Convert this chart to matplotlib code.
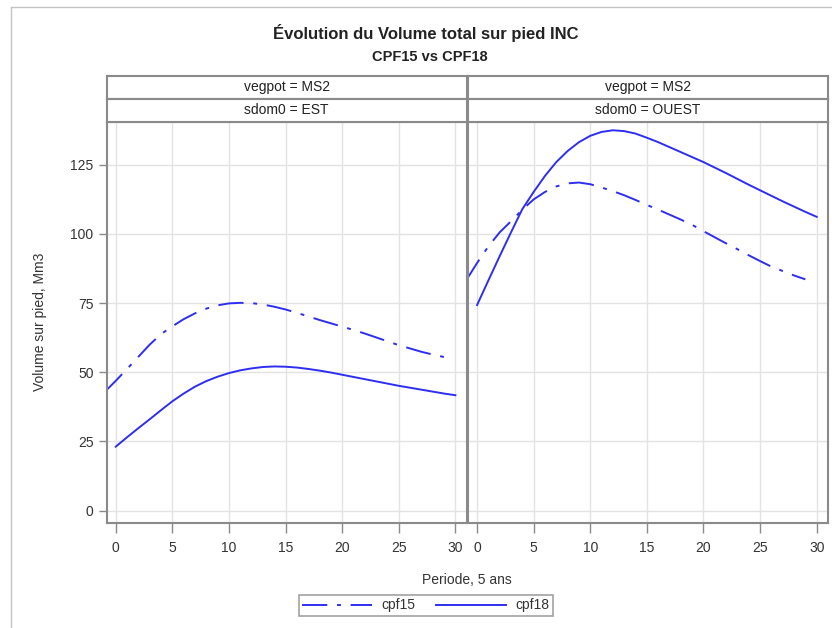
import matplotlib.pyplot as plt
from matplotlib.lines import Line2D

plt.rcParams['font.family'] = ['Liberation Sans', 'DejaVu Sans']

# periods (5-year steps)
periode_cpf15 = list(range(-1, 30))
periode_cpf18 = list(range(0, 31))

# sdom0 = EST
est_cpf15 = [42.8, 46.9, 51.2, 55.6, 60.0, 63.8, 66.6, 69.2, 71.3, 73.0, 74.2,
             74.9, 75.1, 75.0, 74.5, 73.7, 72.7, 71.5, 70.2, 68.9, 67.7, 66.5,
             65.3, 64.0, 62.6, 61.2, 59.8, 58.6, 57.4, 56.4, 55.5]
est_cpf18 = [23.1, 26.5, 29.8, 33.0, 36.3, 39.5, 42.3, 44.8, 46.8, 48.4, 49.7,
             50.7, 51.4, 51.9, 52.1, 52.0, 51.7, 51.2, 50.6, 49.9, 49.1, 48.3,
             47.5, 46.7, 45.9, 45.1, 44.4, 43.7, 43.0, 42.3, 41.7]

# sdom0 = OUEST
ouest_cpf15 = [83.0, 89.5, 95.5, 100.6, 104.6, 108.8, 112.5, 115.2, 117.2, 118.3,
               118.6, 118.0, 116.8, 115.5, 114.0, 112.3, 110.5, 108.8, 107.0,
               105.2, 103.3, 101.0, 98.8, 96.6, 94.5, 92.3, 90.2, 88.2, 86.6,
               85.0, 83.6]
ouest_cpf18 = [74.3, 83.2, 92.0, 100.6, 109.0, 115.2, 121.0, 126.0, 130.0, 133.2,
               135.5, 136.9, 137.5, 137.2, 136.3, 134.8, 133.2, 131.4, 129.6,
               127.8, 126.0, 124.0, 122.0, 119.9, 117.8, 115.8, 113.8, 111.8,
               109.9, 108.0, 106.2]

panels = [('EST', est_cpf15, est_cpf18), ('OUEST', ouest_cpf15, ouest_cpf18)]
xticks = [0, 5, 10, 15, 20, 25, 30]
yticks = [0, 25, 50, 75, 100, 125]

blue = '#2e2ef0'
frame = '#8a8a8a'
dashdot = (0, (13, 5, 2, 5))

W, H = 832, 628
fig = plt.figure(figsize=(W / 100, H / 100), dpi=100)

# outer border of the original graph
fig.add_artist(Line2D([11 / W, 11 / W], [0, 1 - 7 / H], transform=fig.transFigure,
                      color='#c4c4c4', lw=1))
fig.add_artist(Line2D([11 / W, 1], [1 - 7 / H, 1 - 7 / H], transform=fig.transFigure,
                      color='#c4c4c4', lw=1))

fig.text(426 / W, 1 - 33 / H, 'Évolution du Volume total sur pied INC',
         ha='center', va='center', fontsize=12, fontweight='bold', color='#222222')
fig.text(430 / W, 1 - 57 / H, 'CPF15 vs CPF18',
         ha='center', va='center', fontsize=10.5, fontweight='bold', color='#222222')

lefts = [106.7, 468.0]
width = 360.0
top, bottom = 121.7, 522.7
strip_h = 23.0

axes = []
for i, (sdom, y15, y18) in enumerate(panels):
    x0 = lefts[i]
    ax = fig.add_axes([x0 / W, 1 - bottom / H, width / W, (bottom - top) / H])
    ax.plot(periode_cpf15, y15, color=blue, lw=1.4, linestyle=dashdot, label='cpf15')
    ax.plot(periode_cpf18, y18, color=blue, lw=1.4, label='cpf18')
    ax.set_xlim(-0.8, 31)
    ax.set_ylim(-4.4, 140.6)
    ax.set_xticks(xticks)
    ax.set_yticks(yticks)
    ax.grid(True, color='#e3e3e3', lw=1)
    ax.set_axisbelow(True)
    for s in ax.spines.values():
        s.set_color(frame)
        s.set_linewidth(1.5)
    ax.tick_params(axis='both', colors=frame, labelcolor='#333333', labelsize=10,
                   length=6, width=1)
    ax.tick_params(axis='x', length=7, pad=6)
    if i == 0:
        ax.set_ylabel('Volume sur pied, Mm3', fontsize=10, color='#333333', labelpad=17)
    else:
        ax.tick_params(axis='y', left=False, labelleft=False)
    axes.append(ax)

    # strip headers
    for j, txt in enumerate(['vegpot = MS2', 'sdom0 = ' + sdom]):
        ytop = 76 + j * strip_h
        sax = fig.add_axes([x0 / W, 1 - (ytop + strip_h) / H, width / W, strip_h / H])
        sax.set_xticks([])
        sax.set_yticks([])
        for s in sax.spines.values():
            s.set_color(frame)
            s.set_linewidth(1.5)
        sax.text(0.5, 0.5, txt, ha='center', va='center', fontsize=10,
                 color='#222222', transform=sax.transAxes)

fig.text(467 / W, 1 - 580 / H, 'Periode, 5 ans', ha='center', va='center',
         fontsize=10, color='#333333')

handles, labels = axes[0].get_legend_handles_labels()
leg = fig.legend(handles, labels, loc='center', bbox_to_anchor=(426 / W, 1 - 605.5 / H),
                 ncol=2, fontsize=10, handlelength=5.0, frameon=True, fancybox=False,
                 borderpad=0.25, columnspacing=1.5, handletextpad=0.7)
leg.get_frame().set_edgecolor(frame)
leg.get_frame().set_linewidth(1.2)
for t in leg.get_texts():
    t.set_color('#333333')

fig.savefig('out.png', dpi=100)
